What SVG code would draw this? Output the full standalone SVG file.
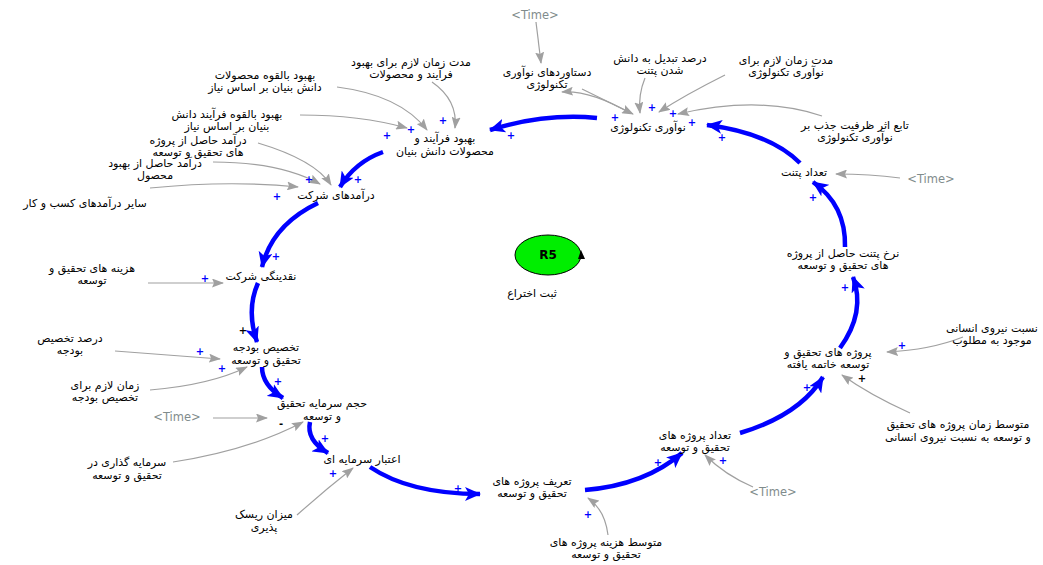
<svg xmlns="http://www.w3.org/2000/svg" width="1043" height="565" viewBox="0 0 1043 565">
<style>
.t{font-family:"DejaVu Sans",sans-serif;font-size:11px;fill:#000;text-anchor:middle;direction:rtl}
.tm{font-family:"DejaVu Sans",sans-serif;font-size:11.5px;fill:#7f8c8c;text-anchor:middle}
.b{fill:none;stroke:#0000ff;stroke-width:4.5;marker-end:url(#ab)}
.g{fill:none;stroke:#a0a0a0;stroke-width:1.2;marker-end:url(#ag)}
.p{font-family:"DejaVu Sans",sans-serif;font-size:10px;font-weight:bold;fill:#0000ff;text-anchor:middle}
.pk{font-family:"DejaVu Sans",sans-serif;font-size:10px;font-weight:bold;fill:#000;text-anchor:middle}
</style>
<defs>
<marker id="ab" markerUnits="userSpaceOnUse" markerWidth="18" markerHeight="14" refX="15" refY="7" orient="auto"><path d="M0,0 L16,7 L0,14 L4,7 z" fill="#0000ff"/></marker>
<marker id="ag" markerUnits="userSpaceOnUse" markerWidth="12" markerHeight="9" refX="11" refY="4.5" orient="auto"><path d="M0,0 L12,4.5 L0,9 L2,4.5 z" fill="#a0a0a0"/></marker>
</defs>
<rect width="1043" height="565" fill="#fff"/>
<g id="connectors">
<path class="b" d="M800,163 Q770,133 707,125"/>
<path class="b" d="M597,118 Q545,113 490,130"/>
<path class="b" d="M383,152 Q355,162 340,187"/>
<path class="b" d="M318,203 Q272,225 262,267"/>
<path class="b" d="M258,283 Q246,310 257,342"/>
<path class="b" d="M262,367 Q262,385 283,398"/>
<path class="b" d="M310,422 Q306,440 328,453"/>
<path class="b" d="M370,467 Q410,494 480,494"/>
<path class="b" d="M585,490 Q645,485 682,453"/>
<path class="b" d="M740,433 Q800,415 823,377"/>
<path class="b" d="M840,348 Q866,312 853,277"/>
<path class="b" d="M845,247 Q846,205 813,182"/>
<path class="g" d="M536,22 L541,63"/>
<path class="g" d="M630,113 Q590,90 562,92"/>
<path class="g" d="M582,89 L633,114"/>
<path class="g" d="M645,78 Q638,95 640,113"/>
<path class="g" d="M725,75 Q685,95 659,112"/>
<path class="g" d="M822,116 Q760,95 678,114"/>
<path class="g" d="M900,178 Q870,174 836,174"/>
<path class="g" d="M963,337 Q930,350 887,352"/>
<path class="g" d="M910,413 Q870,395 842,375"/>
<path class="g" d="M753,487 Q725,475 705,455"/>
<path class="g" d="M608,535 Q605,510 588,498"/>
<path class="g" d="M297,515 Q325,490 353,468"/>
<path class="g" d="M173,462 Q250,450 303,422"/>
<path class="g" d="M213,418 L267,418"/>
<path class="g" d="M150,390 Q210,385 247,367"/>
<path class="g" d="M115,351 Q170,355 220,359"/>
<path class="g" d="M148,283 L223,283"/>
<path class="g" d="M150,188 Q230,180 298,187"/>
<path class="g" d="M213,162 Q280,162 320,184"/>
<path class="g" d="M258,143 Q315,160 331,185"/>
<path class="g" d="M300,115 Q360,115 407,128"/>
<path class="g" d="M337,87 Q400,95 427,130"/>
<path class="g" d="M432,82 Q458,100 455,128"/>
</g>
<g id="polarity">
<text class="p" x="615" y="121">+</text>
<text class="p" x="652" y="111">+</text>
<text class="p" x="673" y="117">+</text>
<text class="p" x="692" y="126">+</text>
<text class="p" x="722" y="141">+</text>
<text class="p" x="443" y="124">+</text>
<text class="p" x="411" y="133">+</text>
<text class="p" x="387" y="139">+</text>
<text class="p" x="511" y="139">+</text>
<text class="p" x="358" y="183">+</text>
<text class="p" x="309" y="183">+</text>
<text class="p" x="277" y="200">+</text>
<text class="p" x="276" y="260">+</text>
<text class="p" x="205" y="282">+</text>
<text class="pk" x="243" y="334">+</text>
<text class="p" x="200" y="355">+</text>
<text class="p" x="222" y="372">+</text>
<text class="p" x="278" y="385">+</text>
<text class="pk" x="281" y="427">-</text>
<text class="p" x="325" y="442">+</text>
<text class="p" x="333" y="477">+</text>
<text class="p" x="458" y="492">+</text>
<text class="p" x="588" y="518">+</text>
<text class="p" x="658" y="466">+</text>
<text class="p" x="723" y="464">+</text>
<text class="p" x="902" y="349">+</text>
<text class="p" x="807" y="391">+</text>
<text class="pk" x="862" y="382">+</text>
<text class="p" x="845" y="291">+</text>
<text class="p" x="813" y="201">+</text>
</g>
<g id="n-noavari"><text class="t" x="648" y="131">نوآوری تکنولوژی</text></g>
<g id="n-behbood"><text class="t" x="445" y="142">بهبود فرآیند و<tspan x="445" dy="13">محصولات دانش بنیان</tspan></text></g>
<g id="n-daramad"><text class="t" x="336" y="199">درآمدهای شرکت</text></g>
<g id="n-naghdinegi"><text class="t" x="261" y="280">نقدینگی شرکت</text></g>
<g id="n-takhsis"><text class="t" x="266" y="351">تخصیص بودجه<tspan x="266" dy="13">تحقیق و توسعه</tspan></text></g>
<g id="n-hajm"><text class="t" x="322" y="407">حجم سرمایه تحقیق<tspan x="322" dy="13">و توسعه</tspan></text></g>
<g id="n-etebar"><text class="t" x="362" y="463">اعتبار سرمایه ای</text></g>
<g id="n-tarif"><text class="t" x="532" y="485">تعریف پروژه های<tspan x="532" dy="12">تحقیق و توسعه</tspan></text></g>
<g id="n-tedad-proje"><text class="t" x="695" y="439">تعداد پروژه های<tspan x="695" dy="12">تحقیق و توسعه</tspan></text></g>
<g id="n-khateme"><text class="t" x="828" y="356">پروژه های تحقیق و<tspan x="828" dy="12">توسعه خاتمه یافته</tspan></text></g>
<g id="n-nerkh"><text class="t" x="843" y="257">نرخ پتنت حاصل از پروژه<tspan x="843" dy="12">های تحقیق و توسعه</tspan></text></g>
<g id="n-tedad-patent"><text class="t" x="804" y="176">تعداد پتنت</text></g>
<g id="n-dastavard"><text class="t" x="547" y="76">دستاوردهای نوآوری<tspan x="547" dy="12">تکنولوژی</tspan></text></g>
<g id="n-time1"><text class="tm" x="535" y="19">&lt;Time&gt;</text></g>
<g id="n-darsad-tabdil"><text class="t" x="660" y="62">درصد تبدیل به دانش<tspan x="660" dy="12">شدن پتنت</tspan></text></g>
<g id="n-modat-noavari"><text class="t" x="786" y="64">مدت زمان لازم برای<tspan x="786" dy="12">نوآوری تکنولوژی</tspan></text></g>
<g id="n-tabe"><text class="t" x="855" y="129">تابع اثر ظرفیت جذب بر<tspan x="855" dy="12">نوآوری تکنولوژی</tspan></text></g>
<g id="n-time2"><text class="tm" x="931" y="183">&lt;Time&gt;</text></g>
<g id="n-nesbat"><text class="t" x="992" y="332">نسبت نیروی انسانی<tspan x="992" dy="12">موجود به مطلوب</tspan></text></g>
<g id="n-motavaset-zaman"><text class="t" x="958" y="428">متوسط زمان پروژه های تحقیق<tspan x="958" dy="13">و توسعه به نسبت نیروی انسانی</tspan></text></g>
<g id="n-time3"><text class="tm" x="773" y="496">&lt;Time&gt;</text></g>
<g id="n-motavaset-hazine"><text class="t" x="606" y="546">متوسط هزینه پروژه های<tspan x="606" dy="12">تحقیق و توسعه</tspan></text></g>
<g id="n-risk"><text class="t" x="264" y="518">میزان ریسک<tspan x="264" dy="13">پذیری</tspan></text></g>
<g id="n-sarmayegozari"><text class="t" x="127" y="466">سرمایه گذاری در<tspan x="127" dy="13">تحقیق و توسعه</tspan></text></g>
<g id="n-time4"><text class="tm" x="177" y="421">&lt;Time&gt;</text></g>
<g id="n-zaman-takhsis"><text class="t" x="105" y="389">زمان لازم برای<tspan x="105" dy="12">تخصیص بودجه</tspan></text></g>
<g id="n-darsad-takhsis"><text class="t" x="70" y="342">درصد تخصیص<tspan x="70" dy="12">بودجه</tspan></text></g>
<g id="n-hazine"><text class="t" x="92" y="272">هزینه های تحقیق و<tspan x="92" dy="12">توسعه</tspan></text></g>
<g id="n-sayer"><text class="t" x="85" y="207">سایر درآمدهای کسب و کار</text></g>
<g id="n-daramad-mahsool"><text class="t" x="155" y="167">درآمد حاصل از بهبود<tspan x="155" dy="12">محصول</tspan></text></g>
<g id="n-daramad-proje"><text class="t" x="198" y="144">درآمد حاصل از پروژه<tspan x="198" dy="12">های تحقیق و توسعه</tspan></text></g>
<g id="n-bilghovve-farayand"><text class="t" x="227" y="118">بهبود بالقوه فرآیند دانش<tspan x="227" dy="12">بنیان بر اساس نیاز</tspan></text></g>
<g id="n-bilghovve-mahsoolat"><text class="t" x="265" y="79">بهبود بالقوه محصولات<tspan x="265" dy="12">دانش بنیان بر اساس نیاز</tspan></text></g>
<g id="n-modat-behbood"><text class="t" x="411" y="66">مدت زمان لازم برای بهبود<tspan x="411" dy="12">فرآیند و محصولات</tspan></text></g>
<g id="loop-r5">
<ellipse cx="548" cy="255" rx="33" ry="20" fill="#00ee00" stroke="#000" stroke-width="1"/>
<path d="M581,250 L578,259 L585,259 z" fill="#000"/>
<text x="548" y="259" font-family="DejaVu Sans, sans-serif" font-size="12" font-weight="bold" text-anchor="middle">R5</text>
<text class="t" x="532" y="297">ثبت اختراع</text>
</g>
</svg>
